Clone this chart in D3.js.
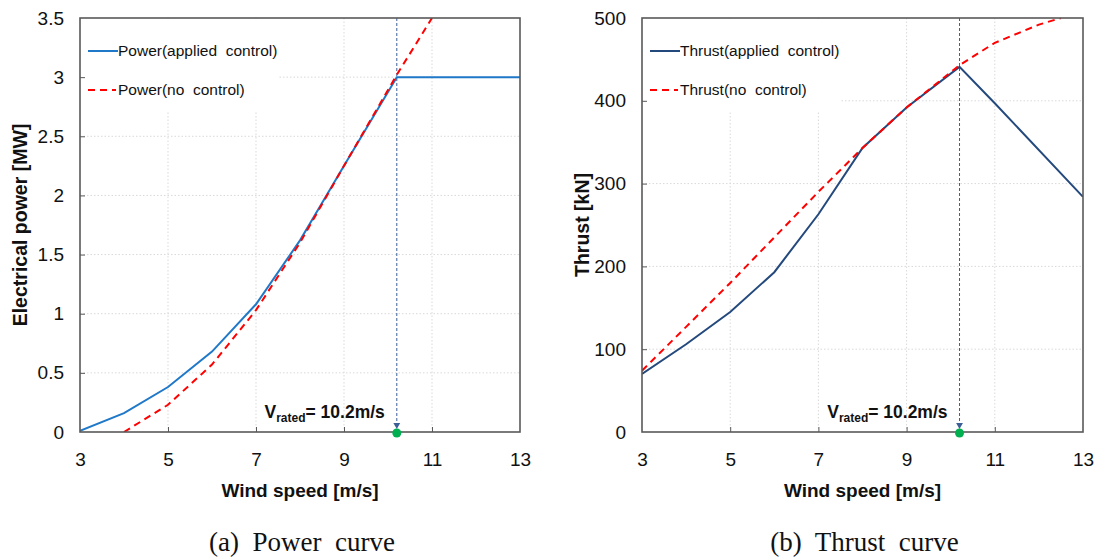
<!DOCTYPE html>
<html>
<head>
<meta charset="utf-8">
<script src="https://cdn.jsdelivr.net/npm/d3@7"></script>
<style>
  body { margin: 0; background: #fff; }
  svg { display: block; }
  text { white-space: pre; }
</style>
</head>
<body>
<svg id="chart" width="1099" height="559"></svg>
<script>
// wind speed (m/s) and curves
const ratedSpeed = 10.2;

const powerCtrlX = [3, 4, 5, 6, 7, 8, 9, 10.2, 13];
const powerCtrlY = [0.01, 0.16, 0.38, 0.68, 1.08, 1.62, 2.25, 3.0, 3.0];
const powerFreeX = [4, 5, 6, 7, 8, 9, 10.2, 11];
const powerFreeY = [0, 0.23, 0.57, 1.03, 1.6, 2.25, 3.02, 3.5];

const thrustCtrlX = [3, 4, 5, 6, 7, 8, 9, 10.2, 11, 13];
const thrustCtrlY = [70, 106, 145, 193, 263, 343, 392, 441, 397, 284];
const thrustFreeX = [3, 4, 5, 6, 7, 8, 9, 10.2, 11, 12, 12.5];
const thrustFreeY = [74, 127, 180, 235, 290, 343, 392, 443, 470, 492, 500];

const xTicks = [3, 5, 7, 9, 11, 13];
const powerTicks = [0, 0.5, 1, 1.5, 2, 2.5, 3, 3.5];
const thrustTicks = [0, 100, 200, 300, 400, 500];

const svg = d3.select("#chart");
const FONT = "'Liberation Sans', Arial, sans-serif";

function panel(cfg) {
    const x = d3.scaleLinear().domain([3, 13]).range([cfg.left, cfg.right]);
    const y = d3.scaleLinear().domain(cfg.yDomain).range([432, 18]);
    const g = svg.append("g");
    const clipId = "clip" + cfg.id;

    g.append("clipPath").attr("id", clipId)
        .append("rect")
        .attr("x", cfg.left).attr("y", 18)
        .attr("width", cfg.right - cfg.left).attr("height", 414);

    // grid
    const grid = g.append("g")
        .attr("stroke", "#d9d9d9")
        .attr("stroke-width", 1)
        .attr("stroke-dasharray", "1.5,2");
    grid.selectAll("line.v")
        .data(xTicks.slice(1, -1))
        .join("line")
        .attr("x1", d => x(d)).attr("x2", d => x(d))
        .attr("y1", 18).attr("y2", 432);
    grid.selectAll("line.h")
        .data(cfg.yTicks.slice(1, -1))
        .join("line")
        .attr("class", "h")
        .attr("x1", cfg.left).attr("x2", cfg.right)
        .attr("y1", d => y(d)).attr("y2", d => y(d));

    // legend background hides the grid
    g.append("rect")
        .attr("x", cfg.left + 1).attr("y", 19)
        .attr("width", 198).attr("height", 93)
        .attr("fill", "#fff");

    // axes with inside ticks
    const xAxis = g.append("g")
        .attr("transform", "translate(0,432)")
        .call(d3.axisBottom(x).tickValues(xTicks).tickSizeInner(-5).tickSizeOuter(0).tickPadding(21));
    const yAxis = g.append("g")
        .attr("transform", `translate(${cfg.left},0)`)
        .call(d3.axisLeft(y).tickValues(cfg.yTicks).tickSizeInner(-5).tickSizeOuter(0).tickPadding(16)
            .tickFormat(d3.format("")));
    [xAxis, yAxis].forEach(a => {
        a.select(".domain").remove();
        a.selectAll(".tick line").attr("stroke", "#595959");
        a.selectAll(".tick text")
            .attr("font-size", 19)
            .attr("font-family", FONT)
            .attr("fill", "#111");
    });
    xAxis.selectAll(".tick").filter(d => d === 3 || d === 13).select("line").remove();
    yAxis.selectAll(".tick").filter((d, i) => i === 0 || i === cfg.yTicks.length - 1).select("line").remove();

    // rated speed marker
    g.append("line")
        .attr("x1", x(ratedSpeed)).attr("x2", x(ratedSpeed))
        .attr("y1", 18).attr("y2", 424)
        .attr("stroke", "#3b5f97").attr("stroke-width", 1)
        .attr("stroke-dasharray", "3,2");
    g.append("path")
        .attr("d", d3.symbol(d3.symbolTriangle, 20)())
        .attr("transform", `translate(${x(ratedSpeed)},425) rotate(180)`)
        .attr("fill", "#3b5f97");

    const line = d3.line().x(d => x(d[0])).y(d => y(d[1]));
    const curves = g.append("g").attr("clip-path", `url(#${clipId})`);
    curves.append("path")
        .datum(d3.zip(cfg.ctrlX, cfg.ctrlY))
        .attr("d", line)
        .attr("fill", "none")
        .attr("stroke", cfg.ctrlColor)
        .attr("stroke-width", 2);
    curves.append("path")
        .datum(d3.zip(cfg.freeX, cfg.freeY))
        .attr("d", line)
        .attr("fill", "none")
        .attr("stroke", "#ff0000")
        .attr("stroke-width", 2)
        .attr("stroke-dasharray", "7,5");

    // frame
    g.append("rect")
        .attr("x", cfg.left).attr("y", 18)
        .attr("width", cfg.right - cfg.left).attr("height", 414)
        .attr("fill", "none")
        .attr("stroke", "#595959").attr("stroke-width", 1.6);

    g.append("circle")
        .attr("cx", x(ratedSpeed)).attr("cy", 433).attr("r", 4.5)
        .attr("fill", "#00b050");

    // legend
    const legend = g.append("g").attr("font-family", FONT).attr("font-size", 15.5).attr("fill", "#111");
    legend.append("line")
        .attr("x1", cfg.left + 8).attr("x2", cfg.left + 38)
        .attr("y1", 51).attr("y2", 51)
        .attr("stroke", cfg.ctrlColor).attr("stroke-width", 2);
    legend.append("text").attr("x", cfg.left + 38).attr("y", 56).text(cfg.ctrlLabel);
    legend.append("line")
        .attr("x1", cfg.left + 8).attr("x2", cfg.left + 36)
        .attr("y1", 90).attr("y2", 90)
        .attr("stroke", "#ff0000").attr("stroke-width", 2)
        .attr("stroke-dasharray", "7,5");
    legend.append("text").attr("x", cfg.left + 38).attr("y", 95).text(cfg.freeLabel);

    // rated label
    const rl = g.append("text")
        .attr("x", x(ratedSpeed) - 12).attr("y", 418)
        .attr("text-anchor", "end")
        .attr("font-family", FONT).attr("font-weight", "bold")
        .attr("font-size", 17.5).attr("fill", "#111");
    rl.append("tspan").text("V");
    rl.append("tspan").attr("font-size", 12).attr("dy", 4).text("rated");
    rl.append("tspan").attr("dy", -4).text("= 10.2m/s");

    // axis titles
    g.append("text")
        .attr("x", (cfg.left + cfg.right) / 2).attr("y", 497)
        .attr("text-anchor", "middle")
        .attr("font-family", FONT).attr("font-weight", "bold")
        .attr("font-size", 19).attr("fill", "#111")
        .text("Wind speed [m/s]");
    g.append("text")
        .attr("transform", `translate(${cfg.titleX},225) rotate(-90)`)
        .attr("text-anchor", "middle")
        .attr("dy", "0.35em")
        .attr("font-family", FONT).attr("font-weight", "bold")
        .attr("font-size", 19.5).attr("fill", "#111")
        .text(cfg.yTitle);

    // caption
    g.append("text")
        .attr("x", (cfg.left + cfg.right) / 2 + 2).attr("y", 551)
        .attr("text-anchor", "middle")
        .attr("font-family", "'Liberation Serif', 'DejaVu Serif', serif")
        .attr("font-size", 27).attr("fill", "#111")
        .text(cfg.caption);
}

panel({
    id: "a", left: 80, right: 520, titleX: 20,
    yDomain: [0, 3.5], yTicks: powerTicks,
    ctrlX: powerCtrlX, ctrlY: powerCtrlY, freeX: powerFreeX, freeY: powerFreeY,
    ctrlColor: "#1f78c8",
    ctrlLabel: "Power(applied  control)", freeLabel: "Power(no  control)",
    yTitle: "Electrical power [MW]", caption: "(a)  Power  curve"
});
panel({
    id: "b", left: 642, right: 1083, titleX: 582,
    yDomain: [0, 500], yTicks: thrustTicks,
    ctrlX: thrustCtrlX, ctrlY: thrustCtrlY, freeX: thrustFreeX, freeY: thrustFreeY,
    ctrlColor: "#24497d",
    ctrlLabel: "Thrust(applied  control)", freeLabel: "Thrust(no  control)",
    yTitle: "Thrust [kN]", caption: "(b)  Thrust  curve"
});
</script>
</body>
</html>
